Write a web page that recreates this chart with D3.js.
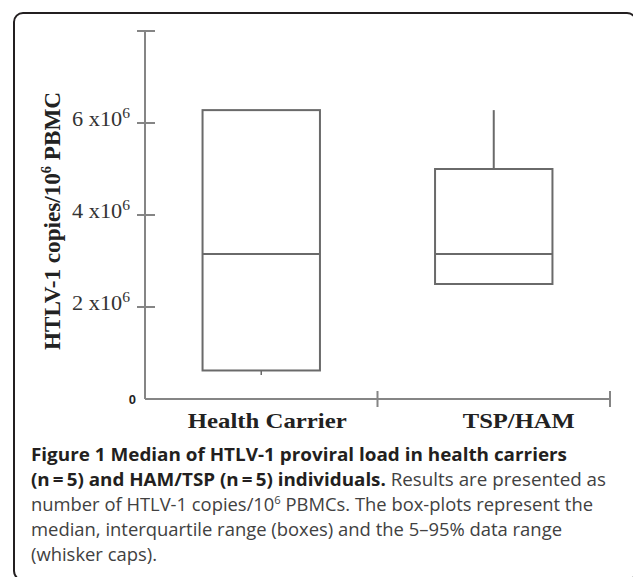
<!DOCTYPE html>
<html>
<head>
<meta charset="utf-8">
<script src="https://cdn.jsdelivr.net/npm/d3@7"></script>
<style>
  body { margin: 0; background: #fff; }
  svg { display: block; }
</style>
</head>
<body>
<svg id="chart"></svg>
<script>
const width = 633;
const height = 577;

// data
const groups = ["Health Carrier", "TSP/HAM"];
const whiskerLow = [0.52e6, 2.5e6];
const q1 = [0.62e6, 2.5e6];
const median = [3.15e6, 3.15e6];
const q3 = [6.28e6, 5.0e6];
const whiskerHigh = [6.28e6, 6.28e6];
const yTicks = [0, 2e6, 4e6, 6e6, 8e6];
const yTickMant = ["0", "2", "4", "6", ""];

const captionLines = [
    [{ t: "Figure 1 Median of HTLV-1 proviral load in health carriers", b: true }],
    [{ t: "(n\u2009=\u20095) and HAM/TSP (n\u2009=\u20095) individuals.", b: true }, { t: " Results are presented as", b: false }],
    [{ t: "number of HTLV-1 copies/10", b: false }, { t: "6", b: false, sup: true }, { t: " PBMCs. The box-plots represent the", b: false }],
    [{ t: "median, interquartile range (boxes) and the 5\u201395% data range", b: false }],
    [{ t: "(whisker caps).", b: false }]
];
const captionWidths = [536, 575, 562, 531, 126];

const svg = d3.select("#chart").attr("width", width).attr("height", height);

// frame
svg.append("rect")
    .attr("x", 14).attr("y", 13)
    .attr("width", 622).attr("height", 567)
    .attr("rx", 9)
    .attr("fill", "none")
    .attr("stroke", "#231f20")
    .attr("stroke-width", 2);

const y = d3.scaleLinear().domain([0, 8e6]).range([399, 31]);
const x = d3.scaleBand().domain(groups).range([145, 610]).padding(0);
const boxW = x.bandwidth() * 0.505;

const axisColor = "#858585";
const boxColor = "#6a6a6a";

// y axis
svg.append("line")
    .attr("x1", 145).attr("x2", 145)
    .attr("y1", y(8e6)).attr("y2", y(0))
    .attr("stroke", axisColor).attr("stroke-width", 2);

svg.selectAll(".ytick").data(yTicks.filter(d => d > 0))
    .enter().append("line").attr("class", "ytick")
    .attr("x1", 137).attr("x2", 155)
    .attr("y1", d => y(d)).attr("y2", d => y(d))
    .attr("stroke", axisColor).attr("stroke-width", 2);

const yl = svg.selectAll(".ylab").data(yTicks.filter((d, i) => d > 0 && yTickMant[i] !== ""))
    .enter().append("text").attr("class", "ylab")
    .attr("x", 72)
    .attr("y", d => y(d) + 3)
    .attr("font-family", "Liberation Serif, serif")
    .attr("font-size", 20)
    .attr("fill", "#333")
    .attr("textLength", 58)
    .attr("lengthAdjust", "spacingAndGlyphs");
yl.append("tspan").text(d => (d / 1e6) + " x10");
yl.append("tspan").attr("dy", -8).attr("font-size", 14).text("6");

svg.append("text")
    .attr("x", 136).attr("y", y(0) + 5)
    .attr("text-anchor", "end")
    .attr("font-family", "Liberation Sans, Arial, sans-serif")
    .attr("font-weight", "bold")
    .attr("font-size", 13)
    .attr("fill", "#222")
    .text(yTickMant[0]);

// y title
const yt = svg.append("text")
    .attr("transform", "translate(60,350) rotate(-90)")
    .attr("font-family", "Liberation Serif, serif")
    .attr("font-weight", "bold")
    .attr("font-size", 24)
    .attr("fill", "#222")
    .attr("textLength", 258)
    .attr("lengthAdjust", "spacingAndGlyphs");
yt.append("tspan").text("HTLV-1 copies/10");
yt.append("tspan").attr("dy", -9).attr("font-size", 15).text("6");
yt.append("tspan").attr("dy", 9).text(" PBMC");

// x axis
svg.append("line")
    .attr("x1", 145).attr("x2", 610)
    .attr("y1", y(0)).attr("y2", y(0))
    .attr("stroke", axisColor).attr("stroke-width", 2);

svg.selectAll(".xtick").data(groups)
    .enter().append("line").attr("class", "xtick")
    .attr("x1", d => x(d) + x.bandwidth()).attr("x2", d => x(d) + x.bandwidth())
    .attr("y1", y(0) - 8).attr("y2", y(0) + 8)
    .attr("stroke", axisColor).attr("stroke-width", 2);

const labelShift = [6, 25];
const labelW = [159, 112];
svg.selectAll(".xlab").data(groups)
    .enter().append("text").attr("class", "xlab")
    .attr("x", (d, i) => x(d) + x.bandwidth() / 2 + labelShift[i] - labelW[i] / 2)
    .attr("y", 428)
    .attr("font-family", "Liberation Serif, serif")
    .attr("font-weight", "bold")
    .attr("font-size", 22)
    .attr("fill", "#222")
    .attr("textLength", (d, i) => labelW[i])
    .attr("lengthAdjust", "spacingAndGlyphs")
    .text(d => d);

// boxes
const bx = svg.selectAll(".box").data(groups).enter().append("g").attr("class", "box");
const cx = d => x(d) + x.bandwidth() / 2;

bx.append("line")
    .attr("x1", cx).attr("x2", cx)
    .attr("y1", (d, i) => y(whiskerHigh[i])).attr("y2", (d, i) => y(q3[i]))
    .attr("stroke", boxColor).attr("stroke-width", 2);
bx.append("line")
    .attr("x1", cx).attr("x2", cx)
    .attr("y1", (d, i) => y(q1[i])).attr("y2", (d, i) => y(whiskerLow[i]))
    .attr("stroke", boxColor).attr("stroke-width", 1.5);
bx.append("rect")
    .attr("x", d => cx(d) - boxW / 2)
    .attr("y", (d, i) => y(q3[i]))
    .attr("width", boxW)
    .attr("height", (d, i) => y(q1[i]) - y(q3[i]))
    .attr("fill", "none")
    .attr("stroke", boxColor).attr("stroke-width", 2);
bx.append("line")
    .attr("x1", d => cx(d) - boxW / 2).attr("x2", d => cx(d) + boxW / 2)
    .attr("y1", (d, i) => y(median[i])).attr("y2", (d, i) => y(median[i]))
    .attr("stroke", boxColor).attr("stroke-width", 2);

// caption
captionLines.forEach((parts, li) => {
    const t = svg.append("text")
        .attr("x", 31).attr("y", 461 + li * 25)
        .attr("font-family", "Open Sans, sans-serif")
        .attr("font-size", 18)
        .attr("textLength", captionWidths[li])
        .attr("lengthAdjust", "spacingAndGlyphs");
    parts.forEach((p, pi) => {
        const s = t.append("tspan")
            .attr("font-weight", p.b ? "bold" : "normal")
            .attr("fill", p.b ? "#231f20" : "#414141")
            .text(p.t);
        if (p.sup) s.attr("font-size", 11).attr("dy", -7);
        if (pi > 0 && parts[pi - 1].sup) s.attr("dy", 7);
    });
});
</script>
</body>
</html>
